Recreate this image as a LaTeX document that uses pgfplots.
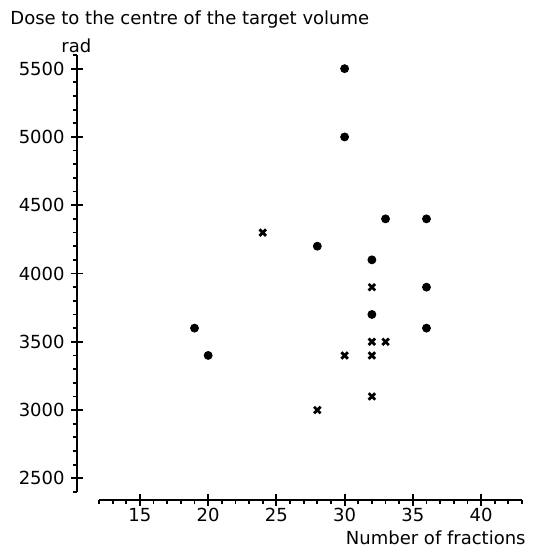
\documentclass[border=0pt]{standalone}
\usepackage{pgfplots}
\pgfplotsset{compat=1.18}
\usepackage{fontspec}
\setmainfont{DejaVu Sans}

\begin{document}
\fontsize{9}{11}\selectfont
\begin{tikzpicture}
\begin{axis}[
  scale only axis, width=211.5pt, height=218.5pt,
  xmin=12, xmax=43, ymin=2400, ymax=5600,
  axis x line=bottom, axis y line=left,
  axis line style={line width=1.1pt, -},
  axis x line shift=4pt, axis y line shift=11pt,
  xtick={15,20,...,40}, ytick={2500,3000,...,5500},
  minor xtick={12,...,43}, minor ytick={2400,2500,...,5600},
  tick align=center, major tick length=6pt, minor tick length=2.2pt,
  minor x tick style={yshift=-1.1pt}, minor y tick style={xshift=-1.1pt},
  tick style={line width=0.9pt, black},
  /pgf/number format/assume math mode=true,
  /pgf/number format/1000 sep={},
  ticklabel style={font=\fontsize{9}{11}\selectfont},
  xticklabel style={yshift=2pt},
  clip=false,
]
\addplot[only marks, mark=*, mark size=2pt, black] coordinates {
  (19,3600) (20,3400) (28,4200) (30,5500) (30,5000) (33,4400)
  (36,4400) (32,4100) (32,3700) (36,3900) (36,3600)
};
\addplot[only marks, mark=x, mark size=2.3pt, black, line width=1.4pt] coordinates {
  (24,4300) (28,3000) (30,3400) (32,3900) (32,3500) (32,3400) (32,3100) (33,3500)
};
\node[anchor=base west, inner sep=0pt] at ([xshift=-44.5pt, yshift=15.5pt]rel axis cs:0,1) {Dose to the centre of the target volume};
\node[anchor=base west, inner sep=0pt] at ([xshift=-19pt, yshift=1.5pt]rel axis cs:0,1) {rad};
\node[anchor=base east, inner sep=0pt] at ([xshift=2pt, yshift=-26pt]rel axis cs:1,0) {Number of fractions};
\path ([xshift=-49.5pt, yshift=246pt]rel axis cs:0,0) ([xshift=218.5pt, yshift=-30pt]rel axis cs:0,0);
\end{axis}
\end{tikzpicture}
\end{document}
